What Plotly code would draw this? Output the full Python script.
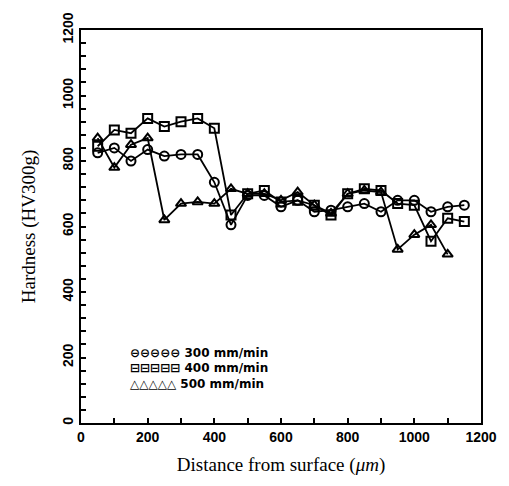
import plotly.graph_objects as go

distance = [50, 100, 150, 200, 250, 300, 350, 400, 450, 500, 550, 600,
            650, 700, 750, 800, 850, 900, 950, 1000, 1050, 1100, 1150]
hv_300 = [825, 840, 800, 835, 815, 820, 820, 735, 605, 695, 695, 660,
          680, 645, 650, 660, 670, 645, 680, 680, 645, 660, 665]
hv_400 = [845, 895, 885, 930, 905, 920, 930, 900, 635, 700, 710, 675,
          680, 665, 635, 700, 715, 710, 670, 665, 555, 625, 615]
distance_500 = distance[:-1]
hv_500 = [870, 780, 850, 870, 620, 670, 675, 670, 715, 700, 700, 680,
          705, 665, 640, 700, 710, 705, 530, 575, 605, 515]

series = [
    ("300 mm/min", distance, hv_300, "circle-open", "⊖⊖⊖⊖⊖"),
    ("400 mm/min", distance, hv_400, "square-open", "⊟⊟⊟⊟⊟"),
    ("500 mm/min", distance_500, hv_500, "triangle-up-open", "△△△△△"),
]

fig = go.Figure()
for name, xs, ys, sym, _ in series:
    fig.add_trace(go.Scatter(
        x=xs, y=ys, name=name, mode="lines+markers",
        line=dict(color="black", width=1.8),
        marker=dict(symbol=sym, size=9, color="black",
                    line=dict(color="black", width=2)),
        showlegend=False,
    ))

legend_y = [215, 167, 119]
for (name, _, _, _, glyph), ly in zip(series, legend_y):
    fig.add_annotation(
        x=140, y=ly, xref="x", yref="y", xanchor="left", yanchor="middle",
        text=f"<b>{glyph} {name}</b>", showarrow=False,
        font=dict(family="DejaVu Sans", size=12, color="black"),
    )

axis_common = dict(
    showline=True, linecolor="black", linewidth=2, mirror=True,
    showgrid=False, zeroline=False, ticks="inside", tickcolor="black",
    ticklen=5, tickwidth=1.5,
    tickfont=dict(family="Liberation Sans", size=14, color="black", weight="bold"),
)

fig.update_xaxes(
    range=[0, 1200], tickvals=[0, 200, 400, 600, 800, 1000, 1200],
    minor=dict(dtick=100, tick0=0, ticks="inside", ticklen=5, tickcolor="black", tickwidth=1.5),
    title=dict(text="Distance from surface (<i>μm</i>)", standoff=14,
               font=dict(family="Liberation Serif", size=19, color="black")),
    **axis_common,
)
fig.update_yaxes(
    range=[0, 1200], tickvals=[0, 200, 400, 600, 800, 1000, 1200],
    tickangle=-90,
    minor=dict(dtick=40, tick0=0, ticks="inside", ticklen=5, tickcolor="black", tickwidth=1.5),
    title=dict(text="Hardness (HV300g)", standoff=20,
               font=dict(family="Liberation Serif", size=19, color="black")),
    **axis_common,
)

fig.update_layout(
    width=509, height=486,
    margin=dict(l=81, r=24, t=21, b=63),
    paper_bgcolor="white", plot_bgcolor="white",
)

fig.write_html("out.html")
